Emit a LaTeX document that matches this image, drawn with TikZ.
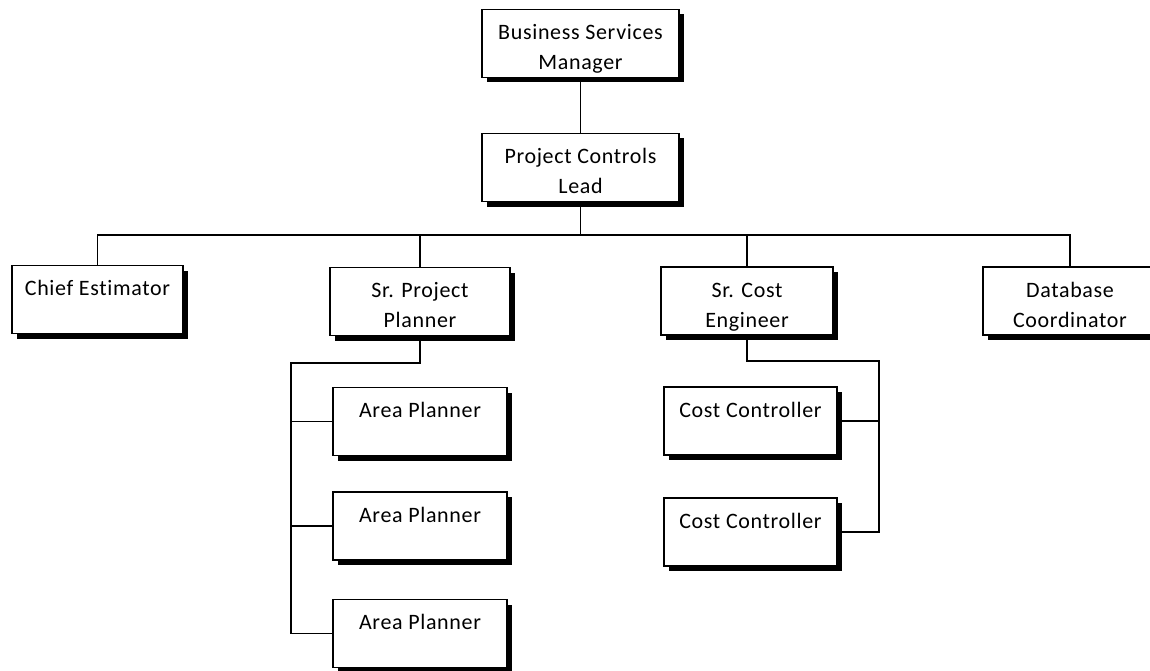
\documentclass[tikz,border=0pt]{standalone}
\usepackage{fontspec}
\setmainfont{Carlito}[LetterSpace=3,Ligatures=NoCommon]
\usetikzlibrary{shadows}
\tikzset{
  unit/.style={draw, line width=1.4pt, fill=white, inner sep=0pt,
    align=center, font=\fontsize{22}{30}\selectfont,
    text height=30pt, text depth=38pt,
    drop shadow={shadow xshift=5pt, shadow yshift=-5pt, fill=black, opacity=1}},
  twoline/.style={unit, text height=60pt, text depth=8pt},
  link/.style={line width=1.4pt},
}
\begin{document}
\begin{tikzpicture}[x=1pt,y=-1pt]
\useasboundingbox (0,0) rectangle (1150,671);
\begin{scope}
\clip (0,0) rectangle (1150,671);

% management chain
\node[twoline, minimum width=197pt] (bsm) at (580.5,43.5) {Business Services\\Manager};
\node[twoline, minimum width=197pt] (pcl) at (580.5,167.5) {Project Controls\\Lead};

% direct reports
\node[unit, minimum width=171pt] (chief) at (97.5,299.5) {Chief Estimator};
\node[twoline, minimum width=180pt] (spp) at (420,301.5) {Sr. Project\\Planner};
\node[twoline, minimum width=172pt] (sce) at (747,301) {Sr. Cost\\Engineer};
\node[twoline, minimum width=174pt] (db) at (1070,301) {Database\\Coordinator};

% planning team
\node[unit, minimum width=174pt] (ap1) at (420,421.5) {Area Planner};
\node[unit, minimum width=174pt] (ap2) at (420,526) {Area Planner};
\node[unit, minimum width=174pt] (ap3) at (420,633.5) {Area Planner};

% cost team
\node[unit, minimum width=173pt] (cc1) at (750.5,421) {Cost Controller};
\node[unit, minimum width=173pt] (cc2) at (750.5,532) {Cost Controller};

% connectors
\coordinate (bus) at (0,235);
\coordinate (sppbend) at (291,363);
\coordinate (scebend) at (879,361);

\draw[link] (bsm.south) -- (pcl.north);
\draw[link] (pcl.south) -- (pcl.south |- bus);
\draw[link] (chief.north) -- (chief.north |- bus) -- (db.north |- bus) -- (db.north);
\draw[link] (spp.north) -- (spp.north |- bus);
\draw[link] (sce.north) -- (sce.north |- bus);

\draw[link] (spp.south) |- (sppbend) -- (sppbend |- ap3.west) -- (ap3.west);
\draw[link] (sppbend |- ap1.west) -- (ap1.west);
\draw[link] (sppbend |- ap2.west) -- (ap2.west);

\draw[link] (sce.south) |- (scebend) -- (scebend |- cc2.east) -- (cc2.east);
\draw[link] (scebend |- cc1.east) -- (cc1.east);
\end{scope}
\end{tikzpicture}
\end{document}
